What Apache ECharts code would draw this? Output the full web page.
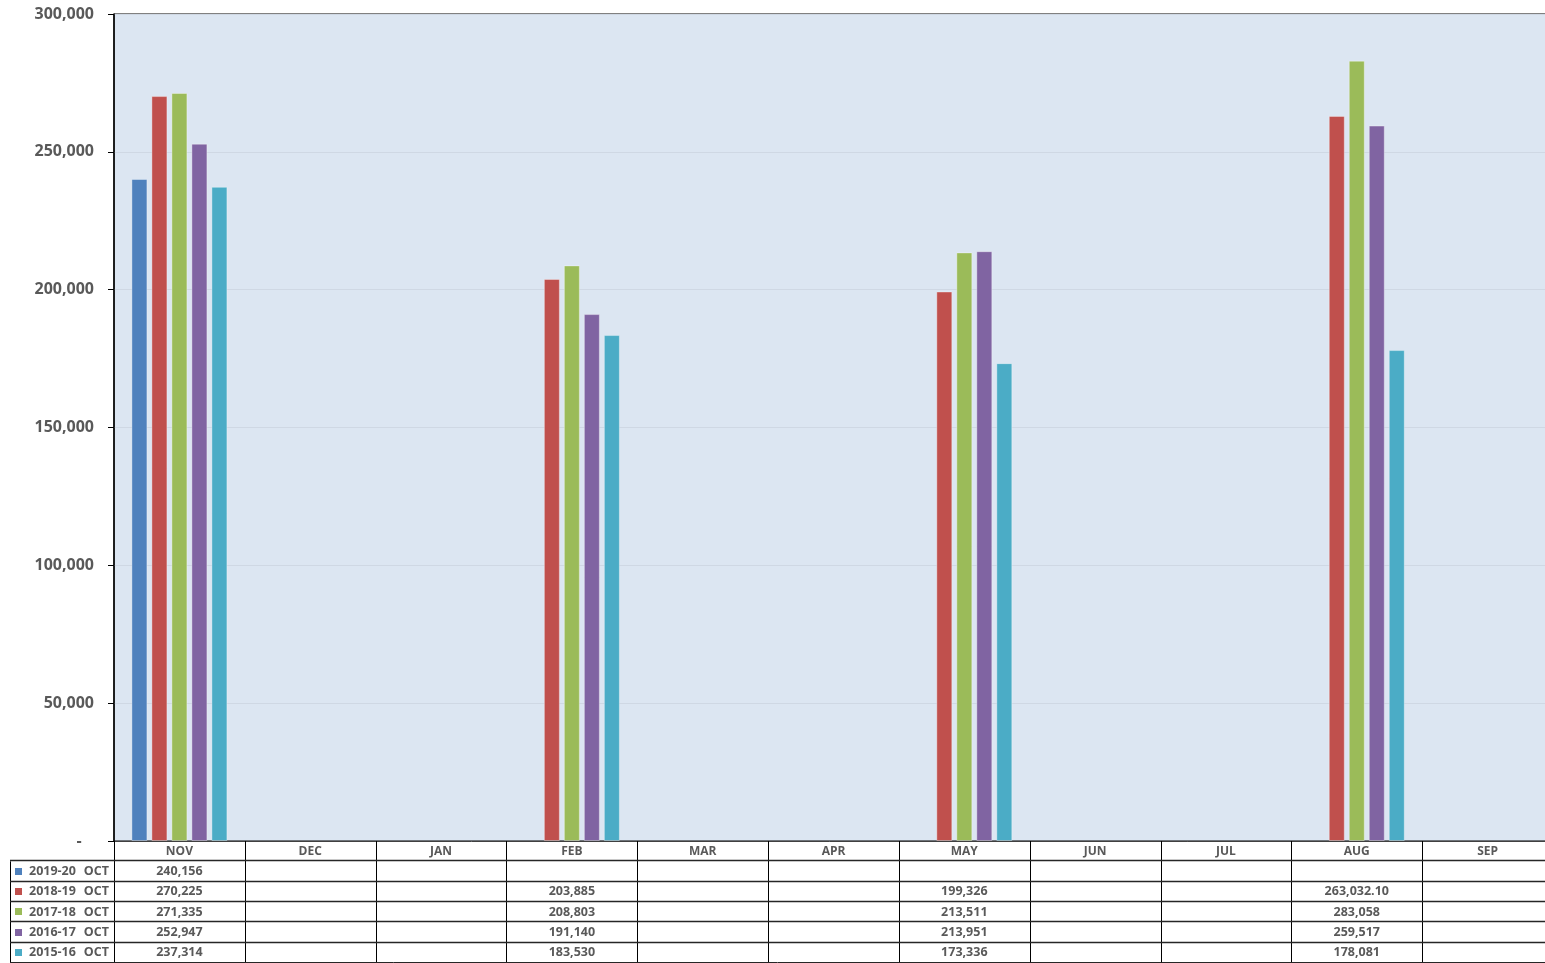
<!DOCTYPE html>
<html>
<head>
<meta charset="utf-8">
<script src="https://cdn.jsdelivr.net/npm/echarts@6/dist/echarts.min.js"></script>
<style>
  html, body { margin: 0; padding: 0; background: #fff; }
  #container { width: 1545px; height: 963px; }
</style>
</head>
<body>
<div id="container"></div>
<script>
// months on the x axis
let months = ['NOV', 'DEC', 'JAN', 'FEB', 'MAR', 'APR', 'MAY', 'JUN', 'JUL', 'AUG', 'SEP'];

// series (year + month label shown in the data table)
let years = ['2019-20', '2018-19', '2017-18', '2016-17', '2015-16'];
let monthTag = 'OCT';
let colors = ['#4F81BD', '#C0504D', '#9BBB59', '#8064A2', '#4BACC6'];

// values per series, null = no value
let v2019 = [240156, null, null, null, null, null, null, null, null, null, null];
let v2018 = [270225, null, null, 203885, null, null, 199326, null, null, 263032.10, null];
let v2017 = [271335, null, null, 208803, null, null, 213511, null, null, 283058, null];
let v2016 = [252947, null, null, 191140, null, null, 213951, null, null, 259517, null];
let v2015 = [237314, null, null, 183530, null, null, 173336, null, null, 178081, null];
let seriesValues = [v2019, v2018, v2017, v2016, v2015];

let yTicks = { min: 0, max: 300000, interval: 50000 };

let dom = document.getElementById('container');
let chart = echarts.init(dom);

let font = '"Open Sans", "Liberation Sans", sans-serif';
let textGray = '#595959';

function fmt(v) {
    if (v == null) return '';
    if (v % 1 !== 0) {
        return v.toLocaleString('en-US', {minimumFractionDigits: 2, maximumFractionDigits: 2});
    }
    return v.toLocaleString('en-US');
}

// plot runs a little past the right edge of the window, like the original
let gridLeft = 114, gridTop = 14, gridBottom = 122, gridRight = -8;

chart.setOption({
    animation: false,
    grid: {
        left: gridLeft,
        top: gridTop,
        right: gridRight,
        bottom: gridBottom,
        outerBoundsMode: 'none',
        containLabel: false,
        show: true,
        backgroundColor: '#DCE6F2',
        borderColor: '#000',
        borderWidth: 1
    },
    xAxis: {
        type: 'category',
        data: months,
        axisLine: { show: true, lineStyle: { color: '#404040', width: 1 } },
        axisTick: { show: false },
        axisLabel: {
            margin: 5,
            color: textGray,
            fontFamily: font,
            fontWeight: 'bold',
            fontSize: 12
        }
    },
    yAxis: {
        type: 'value',
        min: yTicks.min,
        max: yTicks.max,
        interval: yTicks.interval,
        axisLine: { show: true, lineStyle: { color: '#000', width: 1.5 } },
        axisTick: { show: true, length: 6, lineStyle: { color: '#000' } },
        splitLine: { show: true, lineStyle: { color: '#CFD8E4', width: 1 } },
        axisLabel: {
            margin: 20,
            color: textGray,
            fontFamily: font,
            fontWeight: 'bold',
            fontSize: 16,
            formatter: function (v) { return v === 0 ? '-   ' : v.toLocaleString('en-US'); }
        }
    },
    series: years.map((y, i) => ({
        name: y + ' ' + monthTag,
        type: 'bar',
        data: seriesValues[i],
        barWidth: 16,
        barGap: '25%',
        itemStyle: { color: colors[i], borderColor: 'rgba(255,255,255,0.35)', borderWidth: 1 }
    }))
});

// data table under the plot, built from the same arrays
function drawTable() {
    let w = chart.getWidth(), h = chart.getHeight();
    let axisY = h - gridBottom;
    let c0 = chart.convertToPixel({xAxisIndex: 0}, 0);
    let c1 = chart.convertToPixel({xAxisIndex: 0}, 1);
    let cell = c1 - c0;
    let rowH = (h - axisY) / (years.length + 1);
    let tableLeft = 10;
    let els = [];

    // vertical separators
    for (let i = 0; i <= months.length; i++) {
        let x = Math.round(gridLeft + i * cell) + 0.5;
        els.push({type: 'line', shape: {x1: x, y1: axisY, x2: x, y2: h}, style: {stroke: '#000', lineWidth: 1}});
    }
    els.push({type: 'line', shape: {x1: tableLeft + 0.5, y1: axisY + rowH, x2: tableLeft + 0.5, y2: h}, style: {stroke: '#000', lineWidth: 1}});

    // horizontal lines
    for (let r = 1; r <= years.length + 1; r++) {
        let y = Math.round(axisY + r * rowH) - 0.5;
        els.push({type: 'line', shape: {x1: tableLeft, y1: y, x2: w, y2: y}, style: {stroke: '#262626', lineWidth: r === years.length + 1 ? 1 : 1.5}});
    }

    years.forEach((yr, r) => {
        let cy = axisY + (r + 1.5) * rowH;
        els.push({type: 'rect', shape: {x: 15, y: Math.round(cy) - 4, width: 7, height: 7}, style: {fill: colors[r]}});
        els.push({type: 'text', style: {x: 29, y: cy, text: yr, fill: textGray, font: 'bold 12.5px ' + font, textVerticalAlign: 'middle'}});
        els.push({type: 'text', style: {x: 109, y: cy, text: monthTag, fill: textGray, font: 'bold 12.5px ' + font, textAlign: 'right', textVerticalAlign: 'middle'}});
        seriesValues[r].forEach((v, i) => {
            if (v == null) return;
            els.push({type: 'text', style: {
                x: chart.convertToPixel({xAxisIndex: 0}, i), y: cy, text: fmt(v),
                fill: textGray, font: 'bold 12.5px ' + font, textAlign: 'center', textVerticalAlign: 'middle'
            }});
        });
    });

    chart.setOption({graphic: {elements: els.map(e => Object.assign({silent: true, z: 10}, e))}});
}
drawTable();
</script>
</body>
</html>
